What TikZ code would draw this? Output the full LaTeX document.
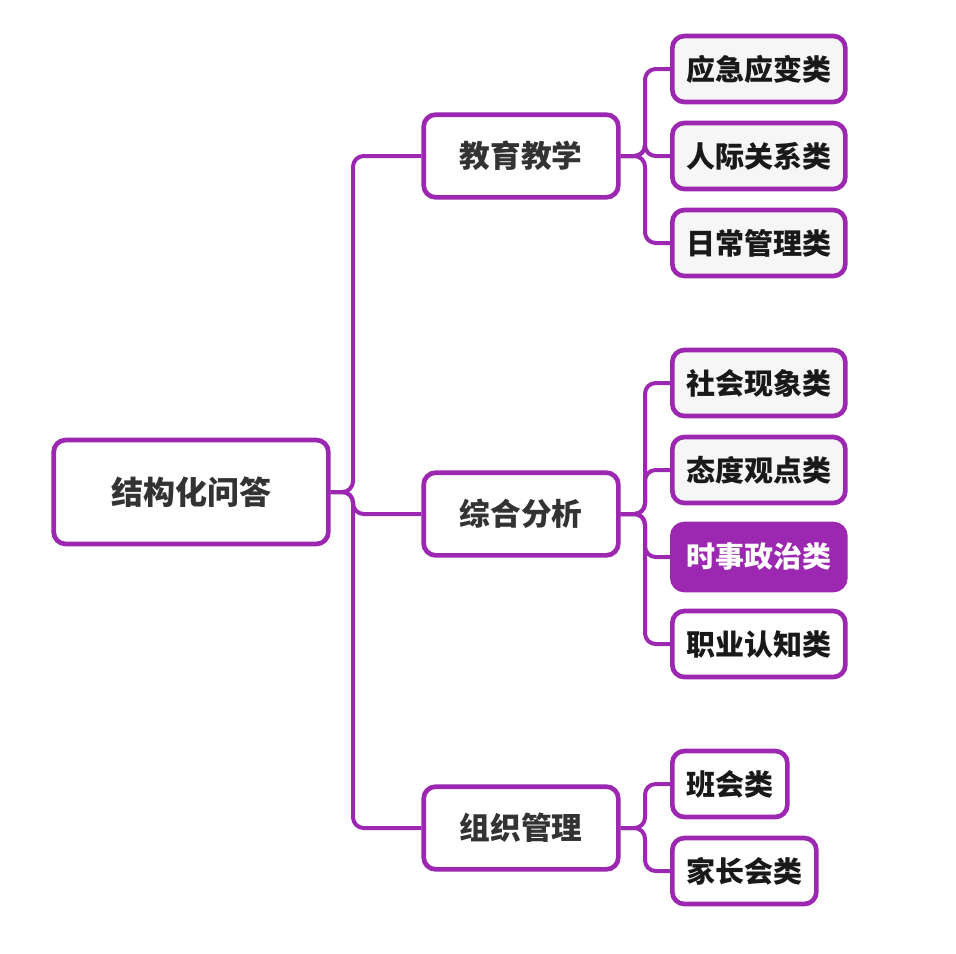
\documentclass[tikz,border=0pt]{standalone}
\usepackage{xcolor}
\usepackage{fontspec}
\usepackage{tikz}
\usetikzlibrary{positioning}
\newfontfamily\cjk{Noto Sans CJK SC}
\definecolor{mmpurple}{HTML}{9C27B0}
\definecolor{mmtext}{HTML}{333333}
\definecolor{mmleaf}{HTML}{F6F6F6}
\tikzset{
  rootbox/.style={rectangle, rounded corners=9pt, draw=mmpurple, line width=3.5pt, fill=white, text=mmtext, minimum width=206pt, minimum height=78pt, font=\cjk\bfseries\fontsize{24pt}{28pt}\selectfont},
  topicbox/.style={rectangle, rounded corners=9pt, draw=mmpurple, line width=3.5pt, fill=white, text=mmtext, minimum width=146pt, minimum height=62pt, font=\cjk\bfseries\fontsize{23pt}{27pt}\selectfont},
  leafbox/.style={rectangle, rounded corners=9pt, draw=mmpurple, line width=3.5pt, fill=mmleaf, text=black!90, inner xsep=10.5pt, minimum height=49.5pt, font=\cjk\bfseries\fontsize{21.75pt}{26pt}\selectfont},
  hotbox/.style={leafbox, fill=mmpurple, text=white},
  plainbox/.style={leafbox, fill=white},
  branch/.style={draw=mmpurple, line width=3pt, rounded corners=8pt},
}

\begin{document}
\begin{tikzpicture}[node distance=12.25pt]
\useasboundingbox (0,0) rectangle (717pt,-714.75pt);
\node[rootbox] (root) at (143.25pt,-369pt) {结构化问答};
\node[topicbox] (edu) at (390.75pt,-117pt) {教育教学};
\node[topicbox] (ana) at (390.75pt,-385.5pt) {综合分析};
\node[topicbox] (org) at (390.75pt,-621pt) {组织管理};

\node[leafbox, anchor=west] (emerg) at (502.5pt,-51.75pt) {应急应变类};
\node[leafbox, below=of emerg] (human) {人际关系类};
\node[leafbox, below=of human] (daily) {日常管理类};

\node[leafbox, anchor=west] (social) at (502.5pt,-287.25pt) {社会现象类};
\node[leafbox, below=of social] (attitude) {态度观点类};
\node[hotbox, below=of attitude] (politics) {时事政治类};
\node[plainbox, below=of politics] (career) {职业认知类};

\node[plainbox, anchor=west] (meeting) at (502.5pt,-588pt) {班会类};
\node[plainbox, below=of meeting.south west, anchor=north west] (parents) {家长会类};

% root -> topics
\coordinate (trunk) at (264.75pt,0);
\foreach \t in {edu, ana, org}
  \draw[branch] (root.east) -- (trunk |- root.east) |- (\t.west);

% topics -> leaves
\coordinate (twig) at (483.75pt,0);
\foreach \t/\l in {edu/emerg, edu/human, edu/daily, ana/social, ana/attitude, ana/politics, ana/career, org/meeting, org/parents}
  \draw[branch] (\t.east) -- (twig |- \t.east) |- (\l.west);
\end{tikzpicture}
\end{document}
